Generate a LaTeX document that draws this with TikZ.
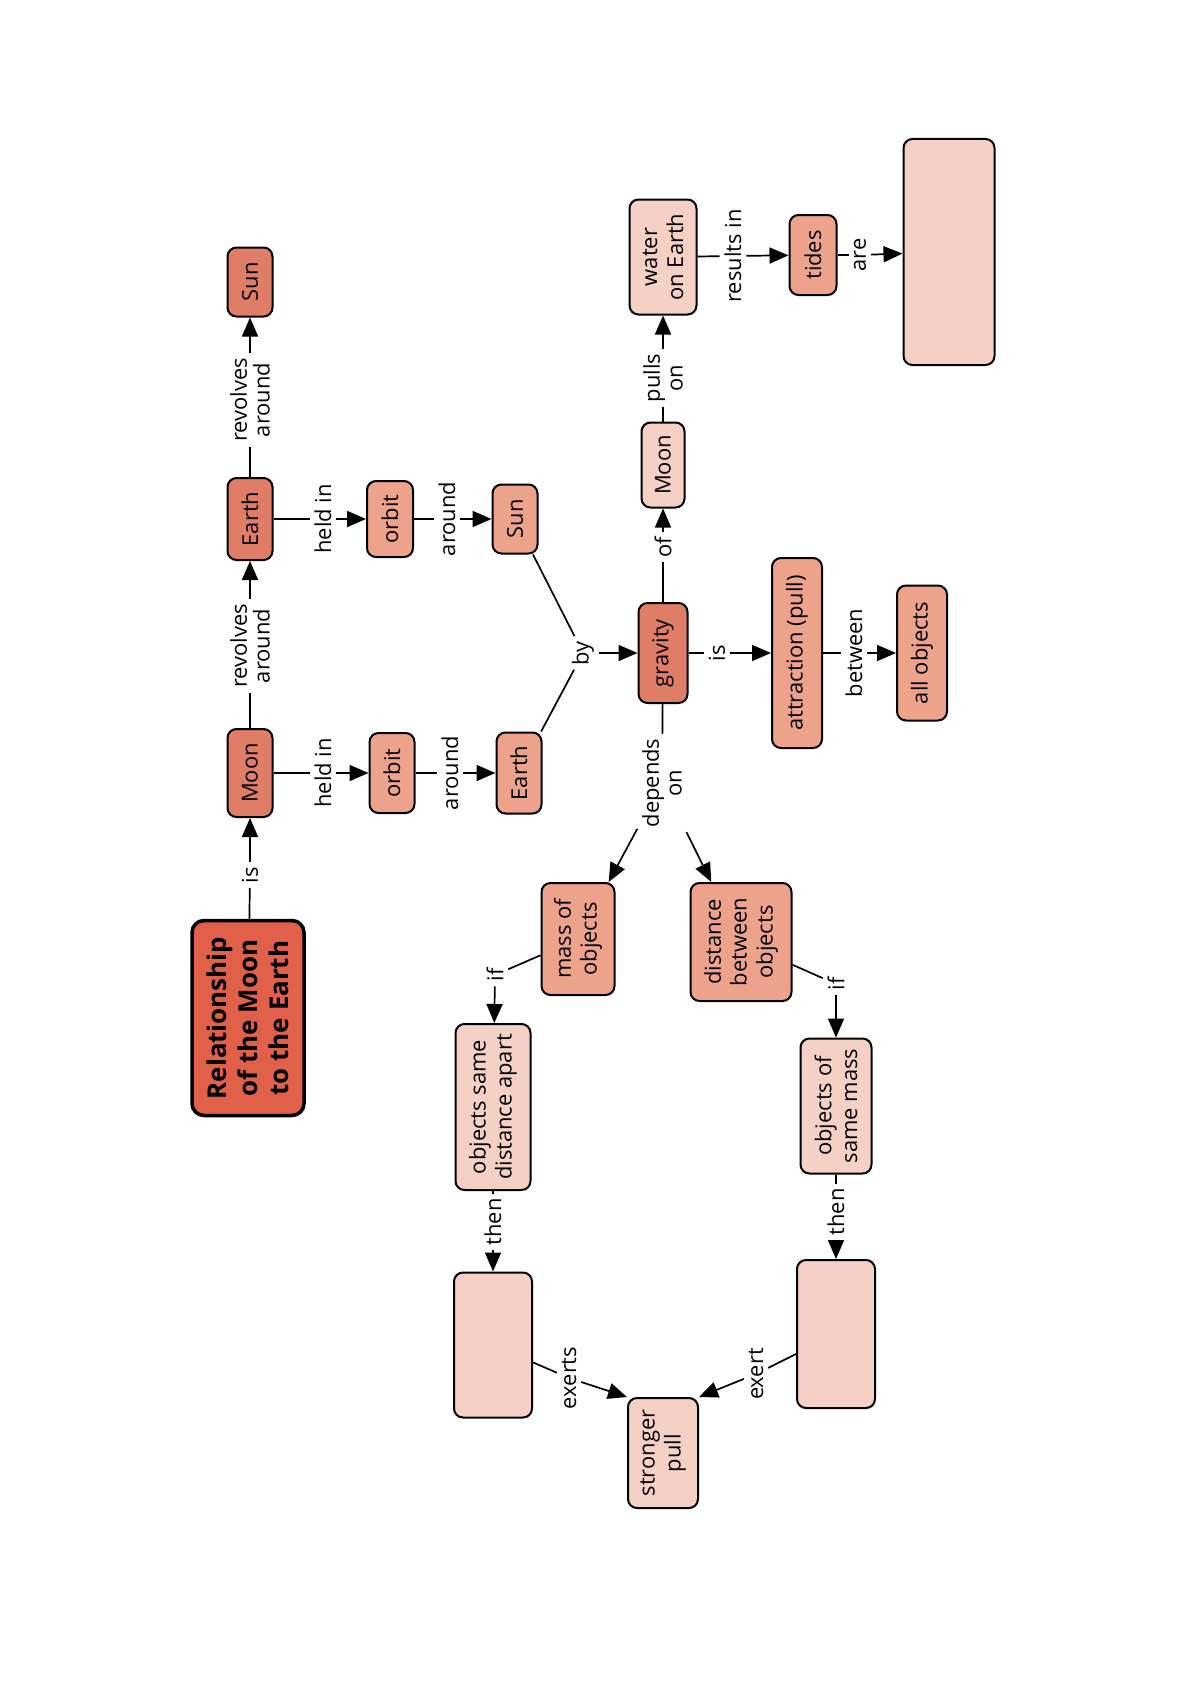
\documentclass[tikz,border=0pt]{standalone}
\usepackage{fontspec}
\setmainfont{Open Sans}
\usetikzlibrary{positioning,arrows.meta,calc}
\definecolor{titlered}{HTML}{E0604A}
\definecolor{deepsalmon}{HTML}{E07D66}
\definecolor{salmon}{HTML}{EDA28C}
\definecolor{palesalmon}{HTML}{F5D1C5}

\begin{document}
\begin{tikzpicture}[
  x=1bp, y=-1bp,
  >={Triangle[length=19bp,width=16bp]},
  line width=1.7bp,
  font=\fontsize{22}{26}\selectfont,
  concept/.style={draw, rounded corners=9bp, rotate=90, line width=2bp, align=center, inner sep=2bp},
  main/.style={concept, fill=titlered, line width=3.5bp, rounded corners=12bp, font=\fontsize{26}{31}\selectfont\bfseries},
  lvlone/.style={concept, fill=deepsalmon},
  lvltwo/.style={concept, fill=salmon},
  lvlthree/.style={concept, fill=palesalmon},
  link/.style={rotate=90, align=center, inner sep=4bp, font=\fontsize{22}{23}\selectfont}
]
\useasboundingbox (0,0) rectangle (1188,1681);

% concepts
\node[main, minimum width=195bp, minimum height=112bp] (title) at (248,1018)
  {Relationship\\of the Moon\\to the Earth};
\node[lvlone, minimum width=88bp, minimum height=45bp] (moon1) at (250,773) {Moon};
\node[lvlone, minimum width=82bp, minimum height=45bp] (earth1) at (250,519) {Earth};
\node[lvlone, minimum width=69bp, minimum height=45bp] (sun1) at (250,282) {Sun};
\node[lvltwo, minimum width=80bp, minimum height=45bp] (orbit1) at (392,773) {orbit};
\node[lvltwo, minimum width=81bp, minimum height=45bp] (earth2) at (519,773) {Earth};
\node[lvltwo, minimum width=76bp, minimum height=46bp] (orbit2) at (390,519) {orbit};
\node[lvltwo, minimum width=69bp, minimum height=45bp] (sun2) at (515,519) {Sun};
\node[lvlone, minimum width=100bp, minimum height=49bp] (gravity) at (663,653) {gravity};
\node[lvlthree, minimum width=85bp, minimum height=43bp] (moon2) at (663,465) {Moon};
\node[lvlthree, minimum width=115bp, minimum height=67bp] (water) at (663,257) {water\\on Earth};
\node[lvltwo, minimum width=80bp, minimum height=47bp] (tides) at (813,255) {tides};
\node[lvlthree, minimum width=226bp, minimum height=91bp] (tidebox) at (949,252) {};
\node[lvltwo, minimum width=190bp, minimum height=50bp] (attract) at (797,653) {attraction (pull)};
\node[lvltwo, minimum width=135bp, minimum height=50bp] (allobj) at (922,653) {all objects};
\node[lvltwo, minimum width=112bp, minimum height=73bp] (mass) at (578,939) {mass of\\objects};
\node[lvltwo, minimum width=118bp, minimum height=101bp] (dist) at (741,942) {distance\\between\\objects};
\node[lvlthree, minimum width=166bp, minimum height=75bp] (samedist) at (493,1107) {objects same\\distance apart};
\node[lvlthree, minimum width=135bp, minimum height=71bp] (samemass) at (836,1106) {objects of\\same mass};
\node[lvlthree, minimum width=145bp, minimum height=78bp] (blank1) at (493,1345) {};
\node[lvlthree, minimum width=148bp, minimum height=78bp] (blank2) at (836,1334) {};
\node[lvlthree, minimum width=110bp, minimum height=70bp] (stronger) at (663,1453) {stronger\\pull};

% linking phrases
\node[link] (lis1) at (250,875) {is};
\node[link] (lrev1) at (250,646) {revolves\\around};
\node[link] (lrev2) at (250,400) {revolves\\around};
\node[link] (lheld1) at (323,773) {held in};
\node[link] (laround1) at (450,773) {around};
\node[link] (lheld2) at (323,519) {held in};
\node[link] (laround2) at (447,519) {around};
\node[link] (lby) at (583,653) {by};
\node[link] (lof) at (663,547) {of};
\node[link] (lpulls) at (663,378) {pulls\\on};
\node[link] (lresults) at (733,256) {results in};
\node[link] (lare) at (860,255) {are};
\node[link] (lis2) at (717,653) {is};
\node[link] (lbetween) at (854,653) {between};
\node[link] (ldepends) at (662,783) {depends\\on};
\node[link] (lif1) at (495,975) {if};
\node[link] (lif2) at (836,984) {if};
\node[link] (lthen1) at (493,1222) {then};
\node[link] (lthen2) at (836,1212) {then};
\node[link] (lexerts) at (569,1378) {exerts};
\node[link] (lexert) at (756,1374) {exert};

% connectors
\draw (title) -- (lis1); \draw[->] (lis1) -- (moon1);
\draw (moon1) -- (lrev1); \draw[->] (lrev1) -- (earth1);
\draw (earth1) -- (lrev2); \draw[->] (lrev2) -- (sun1);
\draw (moon1) -- (lheld1); \draw[->] (lheld1) -- (orbit1);
\draw (orbit1) -- (laround1); \draw[->] (laround1) -- (earth2);
\draw (earth1) -- (lheld2); \draw[->] (lheld2) -- (orbit2);
\draw (orbit2) -- (laround2); \draw[->] (laround2) -- (sun2);
\draw (earth2) -- (lby); \draw (sun2) -- (lby); \draw[->] (lby) -- (gravity);
\draw (gravity) -- (lof); \draw[->] (lof) -- (moon2);
\draw (moon2) -- (lpulls); \draw[->] (lpulls) -- (water);
\draw (water) -- (lresults); \draw[->] (lresults) -- (tides);
\draw (tides) -- (lare); \draw[->] (lare) -- (tidebox);
\draw (gravity) -- (lis2); \draw[->] (lis2) -- (attract);
\draw (attract) -- (lbetween); \draw[->] (lbetween) -- (allobj);
\draw (gravity) -- (ldepends);
\draw[->] (ldepends) -- (mass);
\draw[->] (ldepends) -- (dist);
\draw (mass) -- (lif1); \draw[->] (lif1) -- (samedist);
\draw (dist) -- (lif2); \draw[->] (lif2) -- (samemass);
\draw (samedist) -- (lthen1); \draw[->] (lthen1) -- (blank1);
\draw (samemass) -- (lthen2); \draw[->] (lthen2) -- (blank2);
\draw (blank1) -- (lexerts); \draw[->] (lexerts) -- (stronger.north east);
\draw (blank2) -- (lexert); \draw[->] (lexert) -- (stronger.south east);

\end{tikzpicture}
\end{document}
